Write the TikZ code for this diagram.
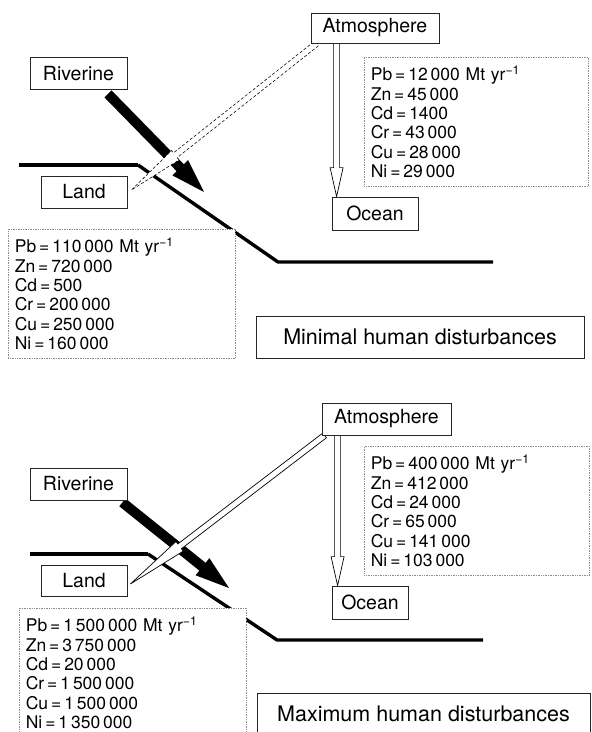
\documentclass[tikz,border=0pt]{standalone}
\usepackage{fontspec}
\setmainfont{TeX Gyre Heros}
\usetikzlibrary{calc,backgrounds}

% wide arrow as a filled outline: style, from, to, half shaft, half head, head length
\newcommand\fatarrow[6]{%
  \coordinate (fa-base) at ($(#3)!#6!(#2)$);
  \path[#1] ($(#2)!#4!90:(#3)$) -- ($(fa-base)!#4!90:(#3)$) -- ($(fa-base)!#5!90:(#3)$)
    -- (#3) -- ($(fa-base)!#5!-90:(#3)$) -- ($(fa-base)!#4!-90:(#3)$)
    -- ($(#2)!#4!-90:(#3)$) -- cycle;
}

\begin{document}
\begin{tikzpicture}[
  x=1pt,
  y=-1pt,
  place/.style={draw=black!85, line width=0.8pt, fill=white, inner sep=0pt,
    minimum height=32pt, font=\fontsize{19.5}{22}\selectfont},
  flux/.style={draw=black!45, densely dotted, line width=0.7pt, fill=white,
    anchor=north west, align=left, inner xsep=6.5pt, inner ysep=0pt,
    minimum height=129pt, font=\fontsize{17.5}{19.3}\selectfont},
  case/.style={draw=black!85, line width=0.8pt, inner sep=0pt,
    minimum height=42pt, font=\fontsize{21.5}{24}\selectfont},
  shelf/.style={line width=4.6pt},
  slope/.style={line width=3.4pt, line join=round},
  river/.style={fill=black},
  depo/.style={fill=white, draw=black, line width=0.7pt},
  wetdepo/.style={depo, densely dashed, line width=0.55pt},
]
  \useasboundingbox (0,0) rectangle (592,732);
  \clip (0,0) rectangle (592,732);

  % Minimal human disturbances
  \node[place, minimum width=97pt] (riv1) at (78.5,73.5) {Riverine};
  \node[place, minimum width=86pt] (land1) at (84,192) {Land};
  \node[place, minimum width=128pt, minimum height=30pt] (atm1) at (375,28) {Atmosphere};
  \node[place, minimum width=86pt, minimum height=33pt] (ocean1) at (375,213.5) {Ocean};
  \node[flux, text width=211pt] (atmflux1) at (364,57)
    {Pb\,=\,12\,000 Mt yr\textsuperscript{−1}\\ Zn\,=\,45\,000\\ Cd\,=\,1400\\
     Cr\,=\,43\,000\\ Cu\,=\,28\,000\\ Ni\,=\,29\,000};
  \node[flux, text width=214pt] (landflux1) at (8,229)
    {Pb\,=\,110\,000 Mt yr\textsuperscript{−1}\\ Zn\,=\,720\,000\\ Cd\,=\,500\\
     Cr\,=\,200\,000\\ Cu\,=\,250\,000\\ Ni\,=\,160\,000};
  \node[case, minimum width=328pt] (case1) at (420,337) {Minimal human disturbances};

  \coordinate (rivout1) at ($(riv1.south)+(29.5,4)$);
  \coordinate (rivend1) at (204,192);
  \coordinate (atmout1) at ($(atm1.south west)+(6,0)$);
  \coordinate (landin1) at ($(land1.east)+(4,-2)$);
  \coordinate (oceanin1) at ($(ocean1.north west)+(5,0)$);
  \coordinate (oceanout1) at (atm1.south -| oceanin1);

  \begin{scope}[on background layer]
    \draw[shelf] (19,165) -- (138,165);
    \draw[slope] (138,165) -- (278,262) -- (493,262);
    \fatarrow{river}{rivout1}{rivend1}{5pt}{11pt}{34pt}
    \fatarrow{wetdepo}{atmout1}{landin1}{3pt}{6pt}{56pt}
    \fatarrow{depo}{oceanout1}{oceanin1}{3pt}{6.5pt}{29pt}
  \end{scope}

  % Maximum human disturbances
  \node[place, minimum width=97pt] (riv2) at (78.5,484) {Riverine};
  \node[place, minimum width=86pt, minimum height=31pt] (land2) at (84,580.5) {Land};
  \node[place, minimum width=129pt] (atm2) at (386.5,419) {Atmosphere};
  \node[place, minimum width=76pt, minimum height=33pt] (ocean2) at (370,602.5) {Ocean};
  \node[flux, text width=212pt] (atmflux2) at (364,446)
    {Pb\,=\,400\,000 Mt yr\textsuperscript{−1}\\ Zn\,=\,412\,000\\ Cd\,=\,24\,000\\
     Cr\,=\,65\,000\\ Cu\,=\,141\,000\\ Ni\,=\,103\,000};
  \node[flux, text width=214pt] (landflux2) at (19,608)
    {Pb\,=\,1\,500\,000 Mt yr\textsuperscript{−1}\\ Zn\,=\,3\,750\,000\\ Cd\,=\,20\,000\\
     Cr\,=\,1\,500\,000\\ Cu\,=\,1\,500\,000\\ Ni\,=\,1\,350\,000};
  \node[case, minimum width=333pt] (case2) at (423.5,714) {Maximum human disturbances};

  \coordinate (rivout2) at ($(riv2.south east)+(-5,2)$);
  \coordinate (rivend2) at (229,588);
  \coordinate (atmout2) at ($(atm2.south west)+(3,0)$);
  \coordinate (landin2) at ($(land2.east)+(3,3.5)$);
  \coordinate (oceanin2) at ($(ocean2.north west)+(6,0)$);
  \coordinate (oceanout2) at (atm2.south -| oceanin2);

  \begin{scope}[on background layer]
    \draw[shelf] (30,554) -- (148,554);
    \draw[slope] (148,554) -- (277,640) -- (483,640);
    \fatarrow{river}{rivout2}{rivend2}{5pt}{11pt}{34pt}
    \fatarrow{depo}{atmout2}{landin2}{3pt}{6pt}{62pt}
    \fatarrow{depo}{oceanout2}{oceanin2}{3pt}{6.5pt}{29pt}
  \end{scope}
\end{tikzpicture}
\end{document}
